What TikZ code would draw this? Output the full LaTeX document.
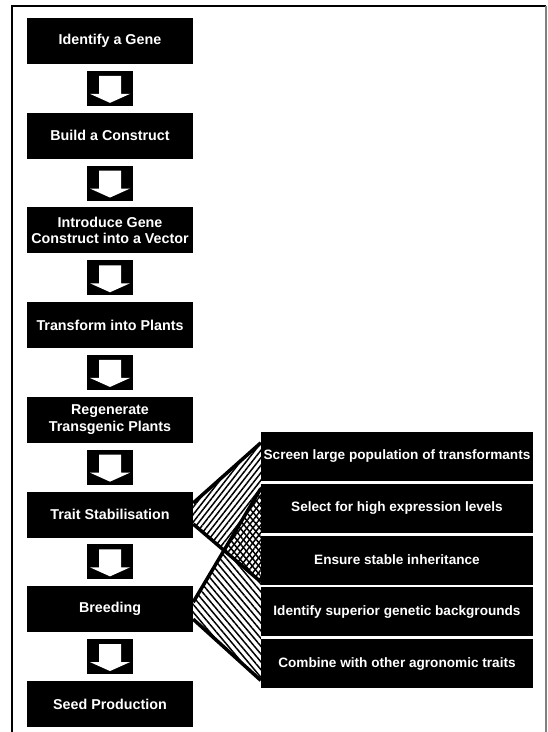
\documentclass[tikz,border=0pt]{standalone}
\usepackage{fontspec}
\setmainfont{Liberation Sans}
\usetikzlibrary{positioning,calc,patterns.meta}
\tikzset{
flow/.style={
    x=1pt,
    y=-1pt,
    node distance=48.3pt,
    font=\bfseries\fontsize{14.3}{16.8}\selectfont
},
stage/.style={
    rectangle,
    fill=black,
    text=white,
    align=center,
    minimum width=166pt,
    minimum height=46pt,
    inner sep=0pt
},
task/.style={
    rectangle,
    fill=black,
    text=white,
    minimum width=272pt,
    minimum height=49pt,
    inner sep=0pt,
    font=\bfseries\fontsize{13.6}{16}\selectfont
},
next/.style={
    rectangle,
    fill=black,
    minimum width=46pt,
    minimum height=35pt,
    inner sep=0pt,
    path picture={
        \fill[white] (path picture bounding box.north) ++(-11pt,-5pt)
            -- ++(22pt,0pt) -- ++(0pt,-18pt) -- ++(9pt,0pt)
            -- ++(-20pt,-9pt) -- ++(-20pt,9pt) -- ++(9pt,0pt) -- cycle;
    }
},
fanline/.style={
    line width=3.5pt
},
frame/.style={
    line width=1.6pt
}}

\begin{document}
\begin{tikzpicture}[flow]
\useasboundingbox (0,0) rectangle (547,732);

% frame
\draw[frame, line width=2pt] (11,6) -- (546,6);
\draw[frame] (12,6) -- (12,732);
\draw[frame, gray] (546,6) -- (546,732);

% main steps
\node[stage]    (gene)       at (110,41)            {Identify a Gene};
\node[stage]    (construct)  [below = of gene]      {Build a Construct};
\node[stage]    (vector)     [below = of construct] {Introduce Gene\\Construct into a Vector};
\node[stage]    (transform)  [below = of vector]    {Transform into Plants};
\node[stage]    (regen)      [below = of transform] {Regenerate\\Transgenic Plants};
\node[stage]    (trait)      [below = of regen]     {Trait Stabilisation};
\node[stage]    (breeding)   [below = of trait]     {Breeding};
\node[stage]    (seed)       [below = of breeding]  {Seed Production};

% arrows between steps
\foreach \a/\b in {gene/construct, construct/vector, vector/transform,
                   transform/regen, regen/trait, trait/breeding, breeding/seed}
    \node[next] at ($(\a.south)!0.5!(\b.north)$) {};

% tasks
\node[task]     (screen)     at (397,456.5)              {Screen large population of transformants};
\node[task]     (select)     [below = 2.4pt of screen]   {Select for high expression levels};
\node[task]     (ensure)     [below = 2.4pt of select]   {Ensure stable inheritance};
\node[task]     (identify)   [below = 2.4pt of ensure]   {Identify superior genetic backgrounds};
\node[task]     (combine)    [below = 2.4pt of identify] {Combine with other agronomic traits};

% fans
\coordinate (a1) at ($(trait.east)+(0,-11.5)$);
\coordinate (a2) at ($(screen.north west)+(0,11)$);
\coordinate (a3) at ($(ensure.south west)+(0,-3)$);
\coordinate (a4) at ($(trait.east)+(0,9.5)$);
\coordinate (b1) at ($(breeding.east)+(0,-7)$);
\coordinate (b2) at ($(select.north west)+(0,5)$);
\coordinate (b3) at ($(combine.south west)+(0,-8)$);
\coordinate (b4) at ($(breeding.east)+(0,10)$);

\fill[pattern={Lines[angle=52,distance=4.6pt,line width=1.5pt]}]  (a1) -- (a2) -- (a3) -- (a4) -- cycle;
\fill[pattern={Lines[angle=-50,distance=5pt,line width=1.5pt]}] (b1) -- (b2) -- (b3) -- (b4) -- cycle;

\draw[fanline] (a1) -- (a2);
\draw[fanline] (a4) -- (a3);
\draw[fanline] (b1) -- (b2);
\draw[fanline] (b4) -- (b3);
\end{tikzpicture}
\end{document}
